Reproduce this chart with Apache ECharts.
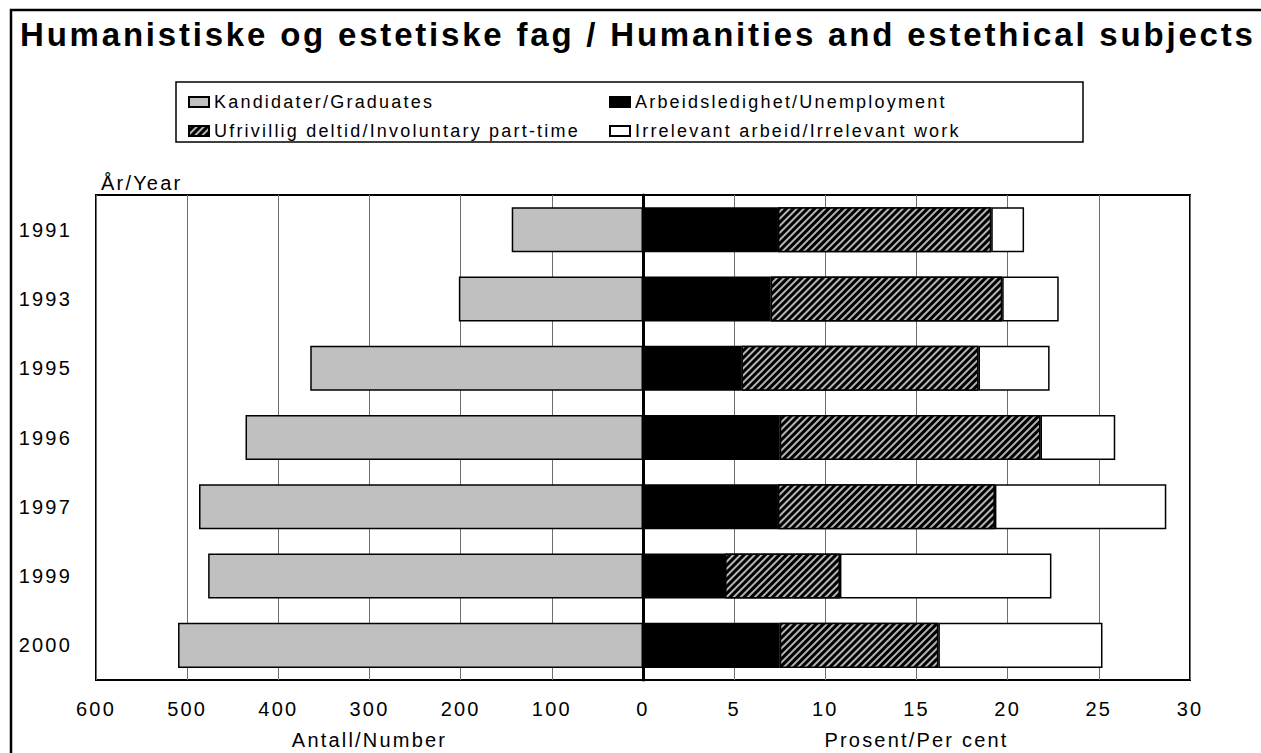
<!DOCTYPE html>
<html><head><meta charset="utf-8">
<script src="https://cdn.jsdelivr.net/npm/echarts@6/dist/echarts.min.js"></script>
<style>
html,body{margin:0;padding:0;background:#fff;}
#c{width:1261px;height:753px;}
#c svg text{letter-spacing:2.2px;}
#c svg text[style*="bold"]{letter-spacing:2.8px;}
</style></head><body><div id="c"></div>
<script>
// ---- data ----
const years = ['1991', '1993', '1995', '1996', '1997', '1999', '2000'];
const graduates = [144, 202, 365, 436, 487, 477, 510];
const unemployment = [7.4, 7.0, 5.4, 7.5, 7.4, 4.5, 7.5];
const partTime = [11.7, 12.7, 13.0, 14.3, 11.9, 6.3, 8.7];
const irrelevant = [1.8, 3.1, 3.9, 4.1, 9.4, 11.6, 9.0];
const numberAxis = {min: 0, max: 600, interval: 100};
const percentAxis = {min: 0, max: 30, interval: 5};
const names = {
  graduates: 'Kandidater/Graduates',
  unemployment: 'Arbeidsledighet/Unemployment',
  partTime: 'Ufrivillig deltid/Involuntary part-time',
  irrelevant: 'Irrelevant arbeid/Irrelevant work'
};
const titleText = 'Humanistiske og estetiske fag / Humanities and estethical subjects';
const yearAxisName = 'År/Year';
const numberAxisName = 'Antall/Number';
const percentAxisName = 'Prosent/Per cent';

// ---- chart ----
const FONT = '"Liberation Sans", Arial, sans-serif';
const chart = echarts.init(document.getElementById('c'), null, {renderer: 'svg'});
const border = {borderColor: '#000', borderWidth: 1.5};
const gridTop = 195, gridH = 485;
const xCommon = {
  axisLine: {show: false},
  axisTick: {show: false},
  splitLine: {show: true, lineStyle: {color: '#6e6e6e', width: 1}},
  axisLabel: {color: '#000', fontSize: 20, fontFamily: FONT, margin: 19},
  nameLocation: 'middle',
  nameGap: 50,
  nameTextStyle: {color: '#000', fontSize: 20, fontFamily: FONT}
};
const legendCommon = {
  orient: 'vertical', top: 87, itemWidth: 20, itemHeight: 10, itemGap: 9, icon: 'rect',
  textStyle: {fontSize: 18, color: '#000', fontFamily: FONT, lineHeight: 20}
};
chart.setOption({
  animation: false,
  backgroundColor: '#fff',
  title: [
    {text: titleText, left: 15, top: 13,
     textStyle: {fontSize: 33, fontWeight: 'bold', color: '#000', fontFamily: FONT}},
    {text: yearAxisName, left: 96, top: 168,
     textStyle: {fontSize: 20, fontWeight: 'normal', color: '#000', fontFamily: FONT}}
  ],
  legend: [
    Object.assign({data: [names.graduates, names.partTime], left: 183}, legendCommon),
    Object.assign({data: [names.unemployment, names.irrelevant], left: 604}, legendCommon)
  ],
  graphic: [
    {type: 'rect', shape: {x: 11, y: 10, width: 1400, height: 900},
     style: {fill: 'none', stroke: '#000', lineWidth: 2.5}, silent: true},
    {type: 'rect', shape: {x: 176, y: 82, width: 907, height: 60},
     style: {fill: 'none', stroke: '#000', lineWidth: 1.5}, silent: true}
  ],
  grid: [
    {left: 96, width: 547, top: gridTop, height: gridH, show: true, outerBoundsMode: 'none',
     containLabel: false, borderColor: '#000', borderWidth: 2, backgroundColor: 'transparent'},
    {left: 643, width: 547, top: gridTop, height: gridH, show: true, outerBoundsMode: 'none',
     containLabel: false, borderColor: '#000', borderWidth: 2, backgroundColor: 'transparent'}
  ],
  xAxis: [
    Object.assign({type: 'value', gridIndex: 0, inverse: true, name: numberAxisName}, numberAxis, xCommon),
    Object.assign({type: 'value', gridIndex: 1, name: percentAxisName}, percentAxis, xCommon,
      {axisLabel: Object.assign({}, xCommon.axisLabel, {showMinLabel: false})})
  ],
  yAxis: [
    {type: 'category', gridIndex: 0, data: years, inverse: true,
     axisLine: {show: false}, axisTick: {show: false}, splitLine: {show: false},
     axisLabel: {color: '#000', fontSize: 20, fontFamily: FONT, margin: 24}},
    {type: 'category', gridIndex: 1, data: years, inverse: true,
     axisLine: {show: true, lineStyle: {color: '#000', width: 3}}, axisTick: {show: false},
     splitLine: {show: false}, axisLabel: {show: false}, z: 10}
  ],
  series: [
    {name: names.graduates, type: 'bar', xAxisIndex: 0, yAxisIndex: 0, data: graduates,
     barCategoryGap: '35%', itemStyle: Object.assign({color: '#c0c0c0'}, border)},
    {name: names.unemployment, type: 'bar', stack: 'pct', xAxisIndex: 1, yAxisIndex: 1,
     data: unemployment, barCategoryGap: '35%',
     itemStyle: Object.assign({color: '#000'}, border)},
    {name: names.partTime, type: 'bar', stack: 'pct', xAxisIndex: 1, yAxisIndex: 1,
     data: partTime, barCategoryGap: '35%',
     itemStyle: Object.assign({color: '#000',
       decal: {symbol: 'rect', color: '#b4b4b4', dashArrayX: [1, 0], dashArrayY: [1.4, 2.2],
               symbolSize: 1, rotation: -Math.PI / 4}}, border)},
    {name: names.irrelevant, type: 'bar', stack: 'pct', xAxisIndex: 1, yAxisIndex: 1,
     data: irrelevant, barCategoryGap: '35%',
     itemStyle: Object.assign({color: '#fff'}, border)}
  ]
});
</script></body></html>
